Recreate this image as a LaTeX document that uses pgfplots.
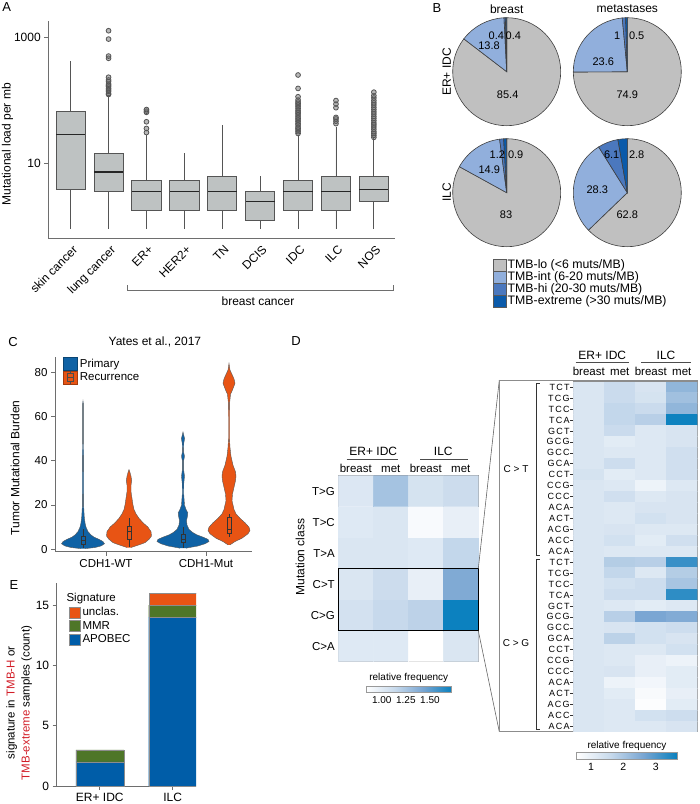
\documentclass[border=0pt]{standalone}
\usepackage{fontspec}
\setmainfont{Liberation Sans}
\newfontfamily\spaced[LetterSpace=14]{Liberation Sans}
\usepackage{pgfplots}
\usepackage{pgfplotstable}
\pgfplotsset{compat=1.18}
\usepgfplotslibrary{statistics}

\definecolor{boxgray}{RGB}{190,194,194}
\definecolor{boxline}{RGB}{85,85,85}
\definecolor{axgray}{RGB}{110,110,110}
\definecolor{tmblo}{RGB}{192,192,192}
\definecolor{tmbint}{RGB}{145,175,220}
\definecolor{tmbhi}{RGB}{75,120,190}
\definecolor{tmbext}{RGB}{10,90,170}
\definecolor{vblue}{RGB}{15,98,165}
\definecolor{vorange}{RGB}{232,84,20}
\definecolor{sgreen}{RGB}{78,118,40}
\definecolor{sblue}{RGB}{0,93,168}
\definecolor{tmbred}{RGB}{210,30,40}

\newcommand\fs[1]{\fontsize{#1}{#1}\selectfont}

\pgfplotsset{
  /pgf/number format/assume math mode=true,
  colormap={heat}{rgb255=(255,255,255) rgb255=(200,218,236) rgb255=(120,165,210) rgb255=(8,128,190)},
  sqE/.style={legend image code/.code={\filldraw[##1] (0pt,-5.5pt) rectangle (11pt,5.5pt);}},
  sqC/.style={legend image code/.code={\filldraw[##1] (0pt,-6.5pt) rectangle (14pt,6.5pt);}},
  abox/.style={boxplot prepared={#1}, boxplot/box extend=0.77, boxplot/whisker extend=0,
    fill=boxgray, draw=boxline, line width=0.8pt, mark=*, mark size=2.4pt,
    mark options={draw=none, fill=black!55, fill opacity=0.5},
    boxplot/every median/.style={draw=black!85, line width=1.6pt}},
  cbox/.style={boxplot prepared={#1}, boxplot/box extend=0.045, boxplot/whisker extend=0,
    draw=black!80, line width=0.5pt},
}

% violin outlines: y = value, w = signed half width (px); up the right side, down the left
\pgfplotstableread{
y w
0.3 2
0.8 12
1.5 18
2.5 21.5
3.5 20
4.5 16
5.5 11
6.5 8
8 5
10 3
12 2
15 1.2
20 0.6
30 0.5
40 0.6
50 0.4
60 0.4
66 0.3
67 0
66 -0.3
60 -0.4
50 -0.4
40 -0.6
30 -0.5
20 -0.6
15 -1.2
12 -2
10 -3
8 -5
6.5 -8
5.5 -11
4.5 -16
3.5 -20
2.5 -21.5
1.5 -18
0.8 -12
0.3 -2
}\wtp
\pgfplotstableread{
y w
0.8 2
2 10
3 16
4.5 20
6 22.5
8 22
10 19
12 14
14 10
16 7
18 5
20 4
23 3
26 2
29 2
31 2.7
33 2
35 0.8
36 0
35 -0.8
33 -2
31 -2.7
29 -2
26 -2
23 -3
20 -4
18 -5
16 -7
14 -10
12 -14
10 -19
8 -22
6 -22.5
4.5 -20
3 -16
2 -10
0.8 -2
}\wtr
\pgfplotstableread{
y w
0.5 3
1.5 15
2.5 22
3.5 26
4.5 25
5.5 20
6.5 14
7.5 10
9 6
11 4
13 3.5
15 4.5
16.5 4.8
18 3
20 1.5
25 0.7
30 0.8
33 1.5
36 0.6
40 0.6
42 1.5
44 0.6
48 0.8
50 1.6
52 0.5
53 0
52 -0.5
50 -1.6
48 -0.8
44 -0.6
42 -1.5
40 -0.6
36 -0.6
33 -1.5
30 -0.8
25 -0.7
20 -1.5
18 -3
16.5 -4.8
15 -4.5
13 -3.5
11 -4
9 -6
7.5 -10
6.5 -14
5.5 -20
4.5 -25
3.5 -26
2.5 -22
1.5 -15
0.5 -3
}\mtp
\pgfplotstableread{
y w
2 1
3.5 6
5 13
7 19
8.5 21
10 20
12 16
14 11
16 7
18 5
20 4
22 3
25 3.5
28 5
31 6.5
33 7
35 6.5
38 4
42 2
46 1
50 0.5
60 0.5
66 0.6
70 1.5
72 3.5
75 6
77 5
79 3
81 1
84 0
81 -1
79 -3
77 -5
75 -6
72 -3.5
70 -1.5
66 -0.6
60 -0.5
50 -0.5
46 -1
42 -2
38 -4
35 -6.5
33 -7
31 -6.5
28 -5
25 -3.5
22 -3
20 -4
18 -5
16 -7
14 -11
12 -16
10 -20
8.5 -21
7 -19
5 -13
3.5 -6
2 -1
}\mtr

\newcommand{\pie}[6]{%
  \filldraw[fill=tmblo,draw=black!75,line width=0.6pt] (axis cs:#1,#2) -- ++(90:54pt)
    arc[start angle=90,end angle={90-3.6*(#3)},radius=54pt] -- cycle;
  \filldraw[fill=tmbint,draw=black!75,line width=0.6pt] (axis cs:#1,#2) -- ++({90-3.6*(#3)}:54pt)
    arc[start angle={90-3.6*(#3)},end angle={90-3.6*(#3+#4)},radius=54pt] -- cycle;
  \filldraw[fill=tmbhi,draw=black!75,line width=0.6pt] (axis cs:#1,#2) -- ++({90-3.6*(#3+#4)}:54pt)
    arc[start angle={90-3.6*(#3+#4)},end angle={90-3.6*(#3+#4+#5)},radius=54pt] -- cycle;
  \filldraw[fill=tmbext,draw=black!75,line width=0.6pt] (axis cs:#1,#2) -- ++({90-3.6*(#3+#4+#5)}:54pt)
    arc[start angle={90-3.6*(#3+#4+#5)},end angle={90-3.6*(#3+#4+#5+#6)},radius=54pt] -- cycle;
}

\begin{document}
\begin{tikzpicture}
\useasboundingbox (0pt,0pt) rectangle (700pt,-804pt);

% panel letters
\node[font=\fs{13}] at (6.7pt,-7pt) {A};
\node[font=\fs{13}] at (437pt,-8pt) {B};
\node[font=\fs{13}] at (13pt,-342pt) {C};
\node[font=\fs{13}] at (296pt,-341pt) {D};
\node[font=\fs{13}] at (14pt,-585pt) {E};

%% A: mutational load boxplots
\begin{axis}[
  at={(48.3pt,-238.3pt)}, anchor=south west,
  scale only axis, width=346.4pt, height=217.6pt,
  xmin=0.41, xmax=9.55, ymode=log, ymin=0.645, ymax=1862,
  axis x line*=bottom, axis y line*=left,
  axis line style={axgray, line width=0.8pt, -},
  xtick={1,...,9},
  xticklabels={skin cancer,lung cancer,ER+,HER2+,TN,DCIS,IDC,ILC,NOS},
  x tick label style={rotate=45, anchor=north east, font=\fs{12}, inner sep=0.5pt, yshift=-2pt},
  xtick style={draw=none},
  ytick={10,1000}, yticklabels={10,1000}, yminorticks=false,
  y tick label style={font=\fs{12}},
  tick align=outside, major tick length=4pt, ytick style={axgray, line width=0.8pt},
  ylabel={Mutational load per mb},
  ylabel style={font=\fs{12}, at={(axis description cs:-0.118,0.433)}, anchor=center},
  boxplot/draw direction=y,
  clip=false,
]
\addplot[abox={draw position=1, lower whisker=0.9, lower quartile=3.8, median=29, upper quartile=68, upper whisker=425}] coordinates {};
\addplot[abox={draw position=2, lower whisker=0.9, lower quartile=3.6, median=7.3, upper quartile=14.4, upper whisker=120}]
  coordinates {(0,125) (0,130) (0,140) (0,147) (0,156) (0,166) (0,175) (0,183) (0,200) (0,213) (0,235) (0,470) (0,510) (0,950) (0,1290)};
\addplot[abox={draw position=3, lower whisker=0.9, lower quartile=1.8, median=3.6, upper quartile=5.4, upper whisker=28}]
  coordinates {(0,31) (0,36) (0,46) (0,65) (0,68) (0,72)};
\addplot[abox={draw position=4, lower whisker=0.9, lower quartile=1.8, median=3.6, upper quartile=5.4, upper whisker=14.5}] coordinates {};
\addplot[abox={draw position=5, lower whisker=0.9, lower quartile=1.8, median=3.6, upper quartile=6.3, upper whisker=41}] coordinates {};
\addplot[abox={draw position=6, lower whisker=0.9, lower quartile=1.26, median=2.5, upper quartile=3.6, upper whisker=6.3}] coordinates {};
\addplot[abox={draw position=7, lower whisker=0.9, lower quartile=1.8, median=3.6, upper quartile=5.4, upper whisker=28}]
  coordinates {(0,30) (0,32) (0,34) (0,36) (0,38) (0,41) (0,43) (0,46) (0,49) (0,52) (0,55) (0,59) (0,63) (0,66) (0,70) (0,75) (0,80) (0,85) (0,90) (0,95) (0,102) (0,115) (0,156) (0,255)};
\addplot[abox={draw position=8, lower whisker=0.9, lower quartile=1.8, median=3.6, upper quartile=6.3, upper whisker=38}]
  coordinates {(0,43) (0,47) (0,51) (0,54) (0,77) (0,88) (0,100)};
\addplot[abox={draw position=9, lower whisker=0.9, lower quartile=2.5, median=3.85, upper quartile=6.3, upper whisker=25}]
  coordinates {(0,26) (0,28) (0,30) (0,32) (0,35) (0,38) (0,41) (0,44) (0,48) (0,52) (0,56) (0,61) (0,66) (0,72) (0,78) (0,85) (0,92) (0,100) (0,110) (0,120) (0,136)};
\end{axis}
\draw[axgray, line width=0.8pt] (127pt,-285pt) -- (127pt,-290pt) -- (393pt,-290pt) -- (393pt,-285pt);
\node[font=\fs{12}] at (258pt,-301pt) {breast cancer};

%% B: TMB pies
\begin{axis}[
  at={(440pt,-320pt)}, anchor=south west,
  scale only axis, width=260pt, height=320pt,
  xmin=440, xmax=700, ymin=-320, ymax=0,
  hide axis, clip=false,
]
\pie{506.7}{-71.7}{85.4}{13.8}{0.4}{0.4}
\pie{627.3}{-71.7}{74.9}{23.6}{1}{0.5}
\pie{506.7}{-192.7}{83}{14.9}{1.2}{0.9}
\pie{627.3}{-192.7}{62.8}{28.3}{6.1}{2.8}
\end{axis}
\node[font=\fs{12}] at (506.7pt,-9pt) {breast};
\node[font=\fs{12}] at (627.3pt,-9pt) {metastases};
\node[font=\fs{12}, rotate=90] at (446.7pt,-72pt) {ER+ IDC};
\node[font=\fs{12}, rotate=90] at (446.7pt,-192pt) {ILC};
\begin{scope}[font=\fs{11}, inner sep=1pt]
\node at (496.3pt,-35.6pt) {0.4};
\node at (513.3pt,-35.6pt) {0.4};
\node at (489pt,-46pt) {13.8};
\node at (507.7pt,-94.3pt) {85.4};
\node at (617.3pt,-36pt) {1};
\node at (636.7pt,-36pt) {0.5};
\node at (603.3pt,-61.7pt) {23.6};
\node at (627.3pt,-94.3pt) {74.9};
\node at (497.3pt,-155pt) {1.2};
\node at (515.7pt,-155pt) {0.9};
\node at (489.3pt,-170pt) {14.9};
\node at (506pt,-215pt) {83};
\node at (611.7pt,-155pt) {6.1};
\node at (636.7pt,-155pt) {2.8};
\node at (597.3pt,-190pt) {28.3};
\node at (627.3pt,-215pt) {62.8};
\end{scope}
\foreach \c/\t/\yy in {tmblo/{TMB-lo (<6 muts/MB)}/265.7, tmbint/{TMB-int (6-20 muts/MB)}/277.7,
                       tmbhi/{TMB-hi (20-30 muts/MB)}/289.7, tmbext/{TMB-extreme (>30 muts/MB)}/301.7}{
  \filldraw[fill=\c, draw=black!65, line width=0.5pt] (493pt,-\yy pt+6pt) rectangle (506pt,-\yy pt-6pt);
  \node[font=\fs{12.3}, anchor=west, inner sep=0.5pt] at (507pt,-\yy pt) {\t};
}

%% C: violins
\begin{axis}[
  at={(55pt,-551.5pt)}, anchor=south west,
  scale only axis, width=196.7pt, height=194.8pt,
  xmin=0.49, xmax=2.457, ymin=-1, ymax=87,
  axis x line*=bottom, axis y line*=left,
  axis line style={axgray, line width=0.7pt, -},
  xtick={1,2}, xticklabels={CDH1-WT,CDH1-Mut},
  ytick={0,20,40,60,80},
  tick align=outside, major tick length=4pt, tick style={axgray, line width=0.7pt},
  ticklabel style={font=\fs{11.5}},
  title={Yates et al., 2017},
  title style={font=\fs{12}, at={(axis description cs:0.508,1.045)}, anchor=center},
  ylabel={Tumor Mutational Burden},
  ylabel style={font=\fs{12}, at={(axis description cs:-0.203,0.429)}, anchor=center},
  legend style={at={(axis description cs:0.042,1.0)}, anchor=north west, draw=none, fill=none,
    font=\fs{11.5}, inner sep=0pt, row sep=0pt, legend cell align=left},
  boxplot/draw direction=y,
]
\addlegendimage{sqC, fill=vblue, draw=vblue!70!black}
\addlegendentry{Primary}
\addlegendimage{legend image code/.code={%
  \filldraw[fill=vorange, draw=vorange!70!black] (0pt,-6.5pt) rectangle (14pt,6.5pt);
  \draw[black!70, line width=0.4pt] (4pt,-4pt) rectangle (10pt,4pt) (4pt,0pt) -- (10pt,0pt) (7pt,-6.5pt) -- (7pt,-4pt) (7pt,4pt) -- (7pt,6.5pt);}}
\addlegendentry{Recurrence}
\addplot[fill=vblue, draw=black!65, line width=0.4pt] table[x expr={0.77+\thisrow{w}/100}, y=y] {\wtp};
\addplot[fill=vorange, draw=black!65, line width=0.4pt] table[x expr={1.23+\thisrow{w}/100}, y=y] {\wtr};
\addplot[fill=vblue, draw=black!65, line width=0.4pt] table[x expr={1.77+\thisrow{w}/100}, y=y] {\mtp};
\addplot[fill=vorange, draw=black!65, line width=0.4pt] table[x expr={2.23+\thisrow{w}/100}, y=y] {\mtr};
\addplot[cbox={draw position=0.77, lower whisker=0.5, lower quartile=2.4, median=4, upper quartile=5.7, upper whisker=9}] coordinates {};
\addplot[cbox={draw position=1.23, lower whisker=1, lower quartile=4.6, median=8, upper quartile=10.5, upper whisker=14}] coordinates {};
\addplot[cbox={draw position=1.77, lower whisker=0.5, lower quartile=3.4, median=4.5, upper quartile=6.8, upper whisker=10}] coordinates {};
\addplot[cbox={draw position=2.23, lower whisker=5.7, lower quartile=7.2, median=9, upper quartile=14.4, upper whisker=16}] coordinates {};
\end{axis}

%% D left: mutation class heatmap
\begin{axis}[
  at={(338.3pt,-661.7pt)}, anchor=south west,
  scale only axis, width=140pt, height=186pt,
  xmin=-0.5, xmax=3.5, ymin=-0.5, ymax=5.5, y dir=reverse,
  xtick={0,1,2,3}, xticklabels={breast,met,breast,met}, xticklabel pos=top,
  ytick={0,...,5}, yticklabels={T>G,T>C,T>A,C>T,C>G,C>A},
  major tick length=0pt, ticklabel style={font=\fs{11.5}},
  axis line style={black!45, line width=0.8pt},
  colormap name=heat, point meta min=0.836, point meta max=1.726,
  colorbar horizontal,
  colorbar style={
    at={(0.198,-0.131)}, anchor=north west,
    scale only axis, width=85.7pt, height=6.5pt,
    xtick={1,1.25,1.5}, xticklabels={1.00,1.25,1.50}, xticklabel pos=bottom,
    major tick length=0pt, ticklabel style={font=\fs{10}},
    axis line style={black!40, line width=0.5pt},
  },
  clip=false,
]
\addplot[matrix plot*, mesh/cols=4, point meta=explicit] coordinates {
(0,0) [1.024] (1,0) [1.262] (2,0) [1.062] (3,0) [1.112]

(0,1) [1.011] (1,1) [1.037] (2,1) [0.874] (3,1) [0.961]

(0,2) [1.037] (1,2) [1.037] (2,2) [1.011] (3,2) [1.149]

(0,3) [1.037] (1,3) [1.112] (2,3) [0.961] (3,3) [1.400]

(0,4) [1.074] (1,4) [1.137] (2,4) [1.174] (3,4) [1.713]

(0,5) [1.011] (1,5) [1.011] (2,5) [0.836] (3,5) [1.037]
};
\draw[black, line width=1.2pt] (axis cs:-0.5,2.5) rectangle (axis cs:3.5,4.5);
\coordinate (lbt) at (axis cs:3.5,2.5);
\coordinate (lbb) at (axis cs:3.5,4.5);
\end{axis}
\node[font=\fs{10}] at (408.8pt,-678.3pt) {relative frequency};
\node[font=\fs{12}] at (373.3pt,-451.7pt) {ER+ IDC};
\node[font=\fs{12}] at (443.3pt,-451.7pt) {ILC};
\draw[black!70, line width=0.6pt] (346.7pt,-459.3pt) -- (398.3pt,-459.3pt);
\draw[black!70, line width=0.6pt] (420pt,-459.3pt) -- (468pt,-459.3pt);
\node[font=\fs{12}, rotate=90] at (300pt,-557pt) {Mutation class};
\draw[black!60, line width=0.6pt] (lbt) -- (499.3pt,-380pt);
\draw[black!60, line width=0.6pt] (lbb) -- (499.3pt,-731.7pt);

%% D right: trinucleotide heatmap
\draw[black!45, line width=0.8pt] (499.3pt,-380pt) rectangle (697.3pt,-731.7pt);
\begin{axis}[
  at={(573.3pt,-731.7pt)}, anchor=south west,
  scale only axis, width=124pt, height=350pt,
  xmin=-0.5, xmax=3.5, ymin=-0.5, ymax=31.5, y dir=reverse,
  xtick={0,1,2,3}, xticklabels={breast,met,breast,met}, xticklabel pos=top,
  x tick label style={font=\fs{11.5}}, xtick style={draw=none},
  ytick={0,...,31}, ytick pos=left,
  yticklabels={TCT,TCG,TCC,TCA,GCT,GCG,GCC,GCA,CCT,CCG,CCC,ACA,ACT,ACG,ACC,ACA,
               TCT,TCG,TCC,TCA,GCT,GCG,GCC,GCA,CCT,CCG,CCC,ACA,ACT,ACG,ACC,ACA},
  y tick label style={font=\spaced\fs{9}, inner sep=0.5pt},
  tick align=outside, major tick length=3pt, ytick style={black!80, line width=0.5pt},
  axis line style={black!45, line width=0.8pt},
  colormap name=heat, point meta min=0.56, point meta max=3.66,
  colorbar horizontal,
  colorbar style={
    at={(0.027,-0.06)}, anchor=north west,
    scale only axis, width=100.6pt, height=7pt,
    xtick={1,2,3}, xticklabel pos=bottom,
    major tick length=0pt, ticklabel style={font=\fs{10.5}},
    axis line style={black!40, line width=0.5pt},
  },
]
\addplot[matrix plot*, mesh/cols=4, point meta=explicit] coordinates {
(0,0) [1.25] (1,0) [1.55] (2,0) [1.30] (3,0) [2.30]

(0,1) [1.25] (1,1) [1.55] (2,1) [1.35] (3,1) [2.10]

(0,2) [1.25] (1,2) [1.65] (2,2) [1.55] (3,2) [2.30]

(0,3) [1.25] (1,3) [1.65] (2,3) [1.80] (3,3) [3.60]

(0,4) [1.25] (1,4) [1.55] (2,4) [1.20] (3,4) [1.30]

(0,5) [1.25] (1,5) [1.10] (2,5) [1.20] (3,5) [1.30]

(0,6) [1.25] (1,6) [1.20] (2,6) [1.20] (3,6) [1.45]

(0,7) [1.25] (1,7) [1.50] (2,7) [1.20] (3,7) [1.45]

(0,8) [1.35] (1,8) [1.10] (2,8) [1.20] (3,8) [1.45]

(0,9) [1.25] (1,9) [1.20] (2,9) [0.90] (3,9) [1.20]

(0,10) [1.25] (1,10) [1.45] (2,10) [1.20] (3,10) [1.30]

(0,11) [1.25] (1,11) [1.20] (2,11) [1.30] (3,11) [1.30]

(0,12) [1.25] (1,12) [1.20] (2,12) [1.40] (3,12) [1.30]

(0,13) [1.25] (1,13) [1.30] (2,13) [1.20] (3,13) [1.20]

(0,14) [1.25] (1,14) [1.40] (2,14) [1.10] (3,14) [1.45]

(0,15) [1.25] (1,15) [1.20] (2,15) [1.20] (3,15) [1.20]

(0,16) [1.25] (1,16) [1.85] (2,16) [1.80] (3,16) [3.20]

(0,17) [1.25] (1,17) [1.65] (2,17) [1.20] (3,17) [1.85]

(0,18) [1.25] (1,18) [1.40] (2,18) [1.50] (3,18) [2.00]

(0,19) [1.25] (1,19) [1.50] (2,19) [1.50] (3,19) [3.30]

(0,20) [1.25] (1,20) [1.20] (2,20) [1.10] (3,20) [1.20]

(0,21) [1.25] (1,21) [1.80] (2,21) [2.60] (3,21) [2.50]

(0,22) [1.25] (1,22) [1.30] (2,22) [1.40] (3,22) [1.50]

(0,23) [1.25] (1,23) [1.75] (2,23) [1.40] (3,23) [1.30]

(0,24) [1.25] (1,24) [1.20] (2,24) [1.20] (3,24) [1.40]

(0,25) [1.25] (1,25) [1.20] (2,25) [1.00] (3,25) [0.90]

(0,26) [1.25] (1,26) [1.30] (2,26) [1.00] (3,26) [1.10]

(0,27) [1.25] (1,27) [0.90] (2,27) [0.80] (3,27) [1.10]

(0,28) [1.25] (1,28) [1.10] (2,28) [0.70] (3,28) [1.00]

(0,29) [1.25] (1,29) [1.20] (2,29) [0.62] (3,29) [1.10]

(0,30) [1.25] (1,30) [1.20] (2,30) [1.40] (3,30) [1.50]

(0,31) [1.25] (1,31) [1.20] (2,31) [1.20] (3,31) [1.30]
};
\end{axis}
\node[font=\fs{10}] at (627pt,-746pt) {relative frequency};
\node[font=\fs{12}] at (602.3pt,-355.7pt) {ER+ IDC};
\node[font=\fs{12}] at (666pt,-355.7pt) {ILC};
\draw[black!70, line width=0.6pt] (575.7pt,-362.3pt) -- (629.3pt,-362.3pt);
\draw[black!70, line width=0.6pt] (641pt,-362.3pt) -- (691pt,-362.3pt);
\draw[black!80, line width=0.6pt] (539.5pt,-383pt) -- (536.7pt,-383pt) -- (536.7pt,-555pt) -- (539.5pt,-555pt);
\draw[black!80, line width=0.6pt] (539.5pt,-559pt) -- (536.7pt,-559pt) -- (536.7pt,-729pt) -- (539.5pt,-729pt);
\node[font=\fs{10}] at (516pt,-469pt) {C > T};
\node[font=\fs{10}] at (516pt,-643pt) {C > G};

%% E: signatures
\begin{axis}[
  at={(56.7pt,-786pt)}, anchor=south west,
  scale only axis, width=139.4pt, height=202.7pt,
  xmin=0.41, xmax=2.32, ymin=0, ymax=16.8,
  ybar stacked, bar width=48pt,
  axis x line*=bottom, axis y line*=left,
  axis line style={axgray, line width=0.7pt, -},
  xtick={1,2}, xticklabels={ER+ IDC,ILC}, ytick={0,5,10,15},
  tick align=outside, major tick length=4pt, tick style={axgray, line width=0.7pt},
  ticklabel style={font=\fs{12}},
  ylabel={signature in \textcolor{tmbred}{TMB-H} or\\\textcolor{tmbred}{TMB-extreme} samples (count)},
  ylabel style={font=\fontsize{11.5}{15}\selectfont, align=center, at={(axis description cs:-0.27,0.41)}, anchor=center},
  legend style={at={(axis description cs:0.088,0.96)}, anchor=north west, draw=none, fill=none,
    font=\fs{11.5}, inner sep=0pt, row sep=0pt, legend cell align=left},
  reverse legend,
]
\addplot[sqE, fill=sblue, draw=black!45, line width=0.4pt] coordinates {(1,2) (2,14)};
\addlegendentry{APOBEC}
\addplot[sqE, fill=sgreen, draw=black!45, line width=0.4pt] coordinates {(1,1) (2,1)};
\addlegendentry{MMR}
\addplot[sqE, fill=vorange, draw=black!45, line width=0.4pt] coordinates {(1,0) (2,1)};
\addlegendentry{unclas.}
\addlegendimage{empty legend}
\addlegendentry{\hspace*{-16pt}Signature}
\end{axis}
\end{tikzpicture}
\end{document}
